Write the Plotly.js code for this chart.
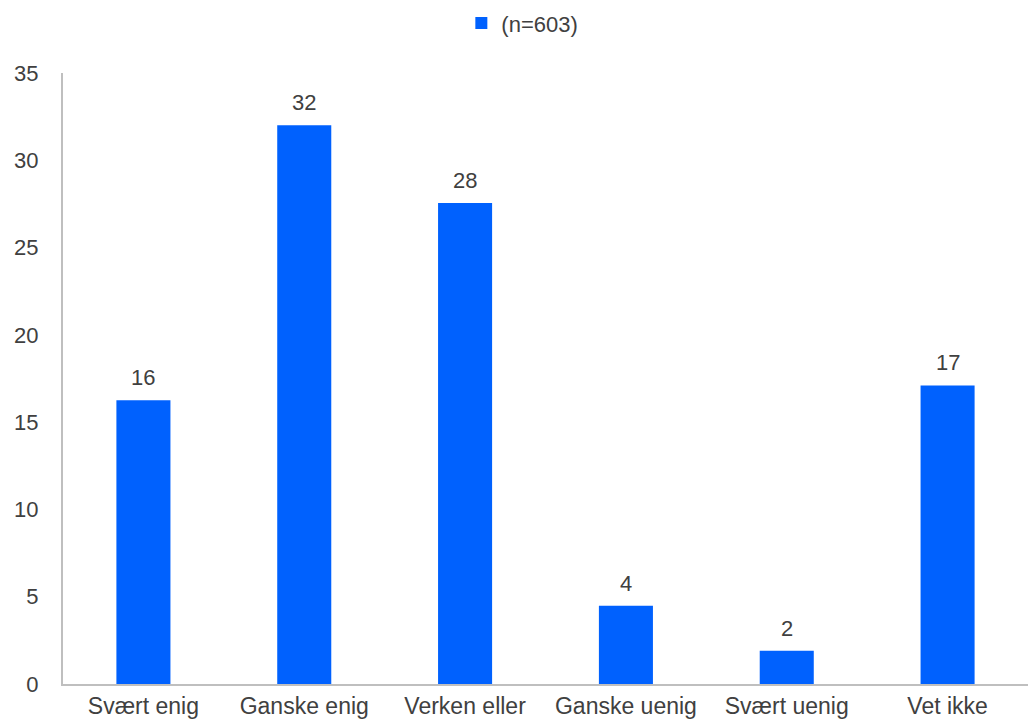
<!DOCTYPE html>
<html>
<head>
<meta charset="utf-8">
<script src="https://cdn.plot.ly/plotly-3.0.1.min.js"></script>
<style>html,body{margin:0;padding:0;background:#fff;}#chart{width:1028px;height:725px;}</style>
</head>
<body>
<div id="chart"></div>
<script>
const categories = ["Svært enig", "Ganske enig", "Verken eller", "Ganske uenig", "Svært uenig", "Vet ikke"];
const values = [16.25, 32.0, 27.55, 4.48, 1.9, 17.1];
const seriesName = "(n=603)";
const yTicks = [0, 5, 10, 15, 20, 25, 30, 35];

const FONT = "Liberation Sans, Arial, sans-serif";
const TXT = "#404040";

const trace = {
  type: "bar",
  x: categories,
  y: values,
  name: seriesName,
  marker: {color: "#0061FE"},
  showlegend: true,
  hoverinfo: "none"
};

const annotations = categories.map((c, i) => ({
  x: c, y: values[i], xref: "x", yref: "y",
  text: String(Math.round(values[i])),
  showarrow: false, yanchor: "bottom", yshift: 8,
  font: {family: FONT, size: 22, color: TXT}
}));

const layout = {
  width: 1028, height: 725,
  margin: {l: 63, r: 0, t: 73, b: 41},
  paper_bgcolor: "#fff", plot_bgcolor: "#fff",
  font: {family: FONT, size: 23, color: TXT},
  bargap: 0.664,
  showlegend: true,
  legend: {orientation: "h", x: 0.476, xref: "paper", xanchor: "center",
           y: 0.997, yref: "container", yanchor: "top",
           font: {size: 22, color: TXT}, itemwidth: 30, itemsizing: "constant"},
  xaxis: {type: "category", showline: true, linecolor: "#BFBFBF", linewidth: 2,
          ticks: "", showgrid: false, tickfont: {size: 23, color: TXT}},
  yaxis: {range: [0, 35], tickvals: yTicks, showline: true, linecolor: "#BFBFBF", linewidth: 2,
          ticks: "", showgrid: false, zeroline: false, tickfont: {size: 22, color: TXT},
          ticklabelstandoff: 18},
  annotations: annotations
};

Plotly.newPlot("chart", [trace], layout, {displayModeBar: false, staticPlot: true});
</script>
</body>
</html>
